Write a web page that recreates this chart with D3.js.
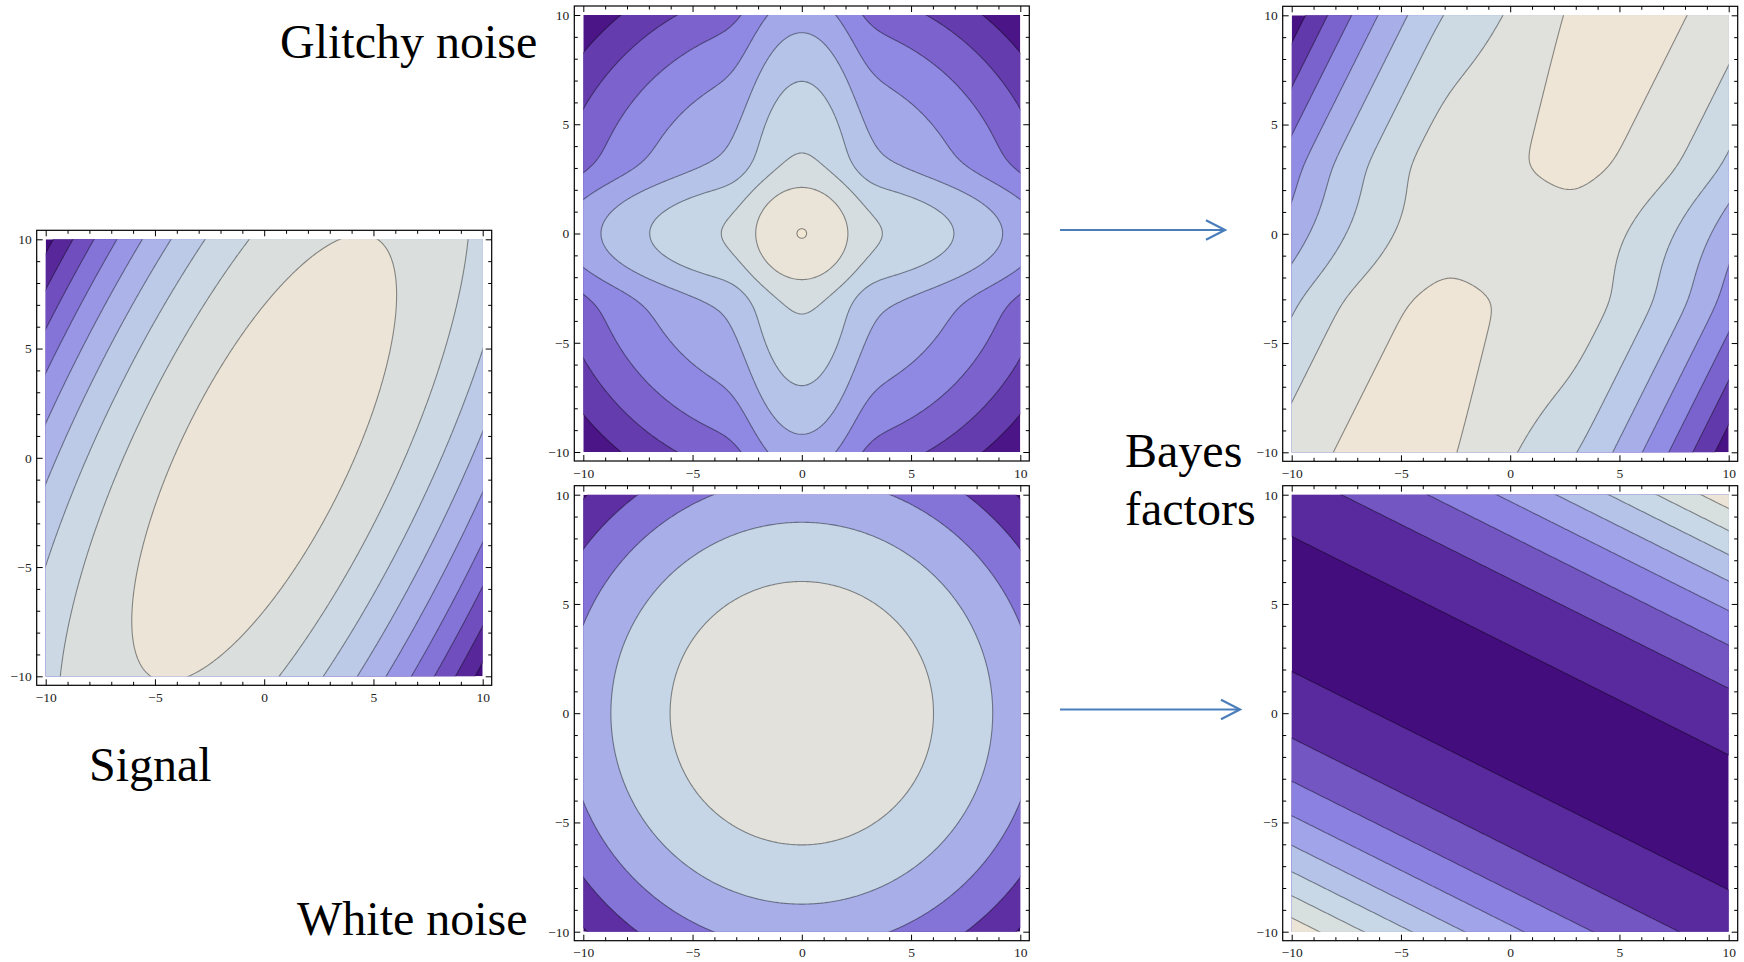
<!DOCTYPE html>
<html>
<head>
<meta charset="utf-8">
<script src="https://cdn.jsdelivr.net/npm/d3@7"></script>
<style>
  html, body { margin: 0; padding: 0; background: #fff; }
  svg { display: block; }
  .tick text { font-family: "Liberation Serif", "Times New Roman", serif; font-size: 13.5px; fill: #222; }
  .label { font-family: "Liberation Serif", "Times New Roman", serif; font-size: 48px; fill: #000; }
</style>
</head>
<body>
<svg id="fig" width="1744" height="962"></svg>
<script>
// Axis range and ticks shared by every panel
const axisDomain = [-10, 10];
const majorTicks = [-10, -5, 0, 5, 10];
const minorTicks = [-9, -8, -7, -6, -4, -3, -2, -1, 1, 2, 3, 4, 6, 7, 8, 9];

// Two-detector noise and signal models
const noiseVariance = [1, 1];
const signalCovariance = [[2.6, 3.2], [3.2, 7.4]];
const glitchRate = [0.1, 0.1];
const glitchVariance = [9, 9];

// Contour levels (log densities / log Bayes factors)
const signalLevels = [-90, -80, -70, -60, -50, -40, -30, -20, -10];
const glitchNoiseLevels = [-18, -16, -14, -12, -10, -8, -6, -4, -2];
const whiteNoiseLevels = [-100, -80, -60, -40, -20];
const glitchBayesLevels = [-67.7, -57.7, -47.7, -37.7, -27.7, -17.7, -7.7, 2.3];
const whiteBayesLevels = [2.3, 12.3, 22.3, 32.3, 42.3, 52.3, 62.3, 72.3];

// Colour ramp, low value -> high value
const rampStops = [0, 0.05, 0.12, 0.24, 0.37, 0.49, 0.61, 0.73, 0.86, 0.96, 1];
const rampColors = ["#3e0878", "#4b1487", "#5d30a3", "#7659c6", "#8d86e3", "#a3a7e8",
                    "#b6c4e9", "#c8d8e6", "#d9dfdf", "#ece4d7", "#f1e7d4"];

// Text labels
const panelLabels = [
  { text: "Glitchy noise", x: 280, y: 58 },
  { text: "Signal", x: 89, y: 781 },
  { text: "White noise", x: 297, y: 935 },
  { text: "Bayes", x: 1125, y: 467 },
  { text: "factors", x: 1125, y: 525 }
];

// ---- log densities ----
const LOG2PI = Math.log(2 * Math.PI);
function logNormal1(t, v) { return -0.5 * t * t / v - 0.5 * Math.log(2 * Math.PI * v); }
function logGauss2(x, y, C) {
  const det = C[0][0] * C[1][1] - C[0][1] * C[1][0];
  const q = (C[1][1] * x * x - 2 * C[0][1] * x * y + C[0][0] * y * y) / det;
  return -0.5 * q - LOG2PI - 0.5 * Math.log(det);
}
function logSignal(x, y) { return logGauss2(x, y, signalCovariance); }
function logWhite(x, y) { return logNormal1(x, noiseVariance[0]) + logNormal1(y, noiseVariance[1]); }
function logGlitchDetector(t, i) {
  const a = Math.log(1 - glitchRate[i]) + logNormal1(t, noiseVariance[i]);
  const b = Math.log(glitchRate[i]) + logNormal1(t, glitchVariance[i]);
  const m = Math.max(a, b);
  return m + Math.log(Math.exp(a - m) + Math.exp(b - m));
}
function logGlitch(x, y) { return logGlitchDetector(x, 0) + logGlitchDetector(y, 1); }

// ---- layout ----
const plotSize = 437;
const framePad = 9;
const panels = [
  { f: logSignal, levels: signalLevels, left: 45.7, top: 239.3 },
  { f: logGlitch, levels: glitchNoiseLevels, left: 583.3, top: 15 },
  { f: logWhite, levels: whiteNoiseLevels, left: 583.3, top: 494.7 },
  { f: (x, y) => logSignal(x, y) - logGlitch(x, y), levels: glitchBayesLevels, left: 1291.7, top: 15.3 },
  { f: (x, y) => logSignal(x, y) - logWhite(x, y), levels: whiteBayesLevels, left: 1291.7, top: 494.7 }
];

const svg = d3.select("#fig");
svg.append("rect").attr("width", 1744).attr("height", 962).attr("fill", "#fff");
const defs = svg.append("defs");
const ramp = d3.scaleLinear().domain(rampStops).range(rampColors).interpolate(d3.interpolateRgb).clamp(true);

const n = 320;
const g0 = -10.6;
const step = (2 * -g0) / (n - 1);

panels.forEach((p, idx) => {
  const xs = d3.scaleLinear().domain(axisDomain).range([p.left, p.left + plotSize]);
  const ys = d3.scaleLinear().domain(axisDomain).range([p.top + plotSize, p.top]);

  // sample the field on a grid slightly wider than the plotted square
  const values = new Float64Array(n * n);
  let fmin = Infinity, fmax = -Infinity;
  for (let j = 0; j < n; j++) {
    const y = -g0 - j * step;
    for (let i = 0; i < n; i++) {
      const x = g0 + i * step;
      const v = p.f(x, y);
      values[j * n + i] = v;
      if (Math.abs(x) <= 10 && Math.abs(y) <= 10) {
        if (v < fmin) fmin = v;
        if (v > fmax) fmax = v;
      }
    }
  }
  [[-10, -10], [-10, 10], [10, -10], [10, 10], [0, 0]].forEach(([x, y]) => {
    const v = p.f(x, y); if (v < fmin) fmin = v; if (v > fmax) fmax = v;
  });

  const levels = p.levels.slice().sort((a, b) => a - b);
  const bandColor = k => {
    const lo = k === 0 ? fmin : levels[k - 1];
    const hi = k === levels.length ? fmax : levels[k];
    return ramp(((lo + hi) / 2 - fmin) / (fmax - fmin));
  };

  const contours = d3.contours().size([n, n]).thresholds(levels)(values);
  const proj = d3.geoTransform({
    point(px, py) {
      this.stream.point(xs(g0 + (px - 0.5) * step), ys(-g0 - (py - 0.5) * step));
    }
  });
  const path = d3.geoPath(proj);

  const clipId = "clip" + idx;
  defs.append("clipPath").attr("id", clipId)
    .append("rect").attr("x", p.left).attr("y", p.top).attr("width", plotSize).attr("height", plotSize);

  const g = svg.append("g").attr("clip-path", `url(#${clipId})`);
  g.append("rect").attr("x", p.left).attr("y", p.top).attr("width", plotSize).attr("height", plotSize)
    .attr("fill", bandColor(0));
  g.selectAll("path.band").data(contours).join("path").attr("class", "band")
    .attr("d", path).attr("fill", (d, k) => bandColor(k + 1)).attr("stroke", "none");
  g.selectAll("path.line").data(contours).join("path").attr("class", "line")
    .attr("d", path).attr("fill", "none").attr("stroke", "#000").attr("stroke-opacity", 0.42)
    .attr("stroke-width", 1.1);

  // frame
  const fx0 = p.left - framePad, fy0 = p.top - framePad, fs = plotSize + 2 * framePad;
  svg.append("rect").attr("x", fx0).attr("y", fy0).attr("width", fs).attr("height", fs)
    .attr("fill", "none").attr("stroke", "#000").attr("stroke-width", 1.2);

  const addAxis = (axis, tx, ty) => {
    const a = svg.append("g").attr("transform", `translate(${tx},${ty})`).call(axis);
    a.select(".domain").remove();
    a.selectAll(".tick line").attr("stroke", "#000").attr("stroke-width", 1);
    return a;
  };
  const fmt = d3.format("d");
  // major ticks, labelled on the bottom and left edges
  addAxis(d3.axisBottom(xs).tickValues(majorTicks).tickSize(-6).tickPadding(7).tickFormat(fmt), 0, fy0 + fs);
  addAxis(d3.axisLeft(ys).tickValues(majorTicks).tickSize(-6).tickPadding(5).tickFormat(fmt), fx0, 0);
  addAxis(d3.axisTop(xs).tickValues(majorTicks).tickSize(-6).tickFormat(""), 0, fy0);
  addAxis(d3.axisRight(ys).tickValues(majorTicks).tickSize(-6).tickFormat(""), fx0 + fs, 0);
  // minor ticks
  addAxis(d3.axisBottom(xs).tickValues(minorTicks).tickSize(-3.5).tickFormat(""), 0, fy0 + fs);
  addAxis(d3.axisLeft(ys).tickValues(minorTicks).tickSize(-3.5).tickFormat(""), fx0, 0);
  addAxis(d3.axisTop(xs).tickValues(minorTicks).tickSize(-3.5).tickFormat(""), 0, fy0);
  addAxis(d3.axisRight(ys).tickValues(minorTicks).tickSize(-3.5).tickFormat(""), fx0 + fs, 0);
});

// arrows from the noise models to the Bayes factor panels
const arrows = [
  { x1: 1060, x2: 1225, y: 230 },
  { x1: 1060, x2: 1240, y: 709.5 }
];
arrows.forEach(a => {
  const ga = svg.append("g").attr("stroke", "#4a7ebb").attr("stroke-width", 2.2).attr("fill", "none");
  ga.append("line").attr("x1", a.x1).attr("x2", a.x2).attr("y1", a.y).attr("y2", a.y);
  ga.append("path").attr("d", `M${a.x2 - 19},${a.y - 9.7}L${a.x2},${a.y}L${a.x2 - 19},${a.y + 9.7}`)
    .attr("stroke-linejoin", "miter");
});

svg.selectAll("text.label").data(panelLabels).join("text").attr("class", "label")
  .attr("x", d => d.x).attr("y", d => d.y).text(d => d.text);
</script>
</body>
</html>
